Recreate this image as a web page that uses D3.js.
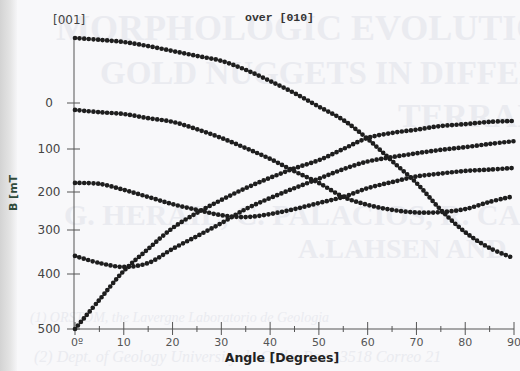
<!DOCTYPE html>
<html lang="en">
<head>
  <meta charset="UTF-8">
  <title>Resonance field vs angle</title>
  <script src="https://d3js.org/d3.v7.min.js"></script>
  <style>
    body { margin: 0; background: #f7f7f9; }
    svg { display: block; }
  </style>
</head>
<body>
  <div id="chart"></div>

  <script>
    // Rotation angle (degrees) and resonance field B [mT] for the five lines
    const angles = [0, 5, 10, 15, 20, 25, 30, 35, 40, 45, 50, 55, 60, 65, 70, 75, 80, 85, 90];
    const lineA = [-145, -141, -136, -127, -116, -105, -94, -74, -49, -22, 8, 37, 78, 128, 179, 247, 305, 341, 364];
    const lineB = [15, 20, 24, 33, 41, 57, 76, 98, 123, 152, 179, 213, 234, 247, 254, 253, 245, 226, 211];
    const lineC = [179, 181, 195, 213, 232, 247, 261, 266, 258, 245, 229, 213, 191, 177, 164, 157, 151, 148, 144];
    const lineD = [359, 375, 384, 375, 343, 314, 282, 245, 216, 191, 169, 147, 129, 119, 110, 102, 96, 89, 83];
    const lineE = [500, 447, 393, 343, 295, 255, 221, 191, 167, 145, 126, 100, 76, 65, 58, 50, 46, 41, 39];
    const allLines = [lineA, lineB, lineC, lineD, lineE];

    const yTicks = [0, 100, 200, 300, 400, 500];
    const xTicks = [0, 10, 20, 30, 40, 50, 60, 70, 80, 90];
    const xMinor = [5, 15, 25, 35, 45, 55, 65, 75, 85];
    const xTickLabels = ["0º", "10", "20", "30", "40", "50", "60", "70", "80", "90"];

    // show-through text from the other side of the scanned page
    const ghostLines = [
      {t: "MORPHOLOGIC EVOLUTION", x: 56, y: 40, s: 36},
      {t: "GOLD NUGGETS IN DIFFERENT", x: 100, y: 84, s: 33},
      {t: "TERRAINS", x: 398, y: 127, s: 34},
      {t: "G. HERAIL, C. PALACIOS, R. CARRASCO", x: 64, y: 225, s: 30},
      {t: "A.LAHSEN AND", x: 298, y: 258, s: 28},
      {t: "(1) ORSTOM, the Lavergne Laboratorio de Geologia", x: 30, y: 322, s: 14},
      {t: "(2) Dept. of Geology University de Chile. Box 13518 Correo 21", x: 34, y: 362, s: 16}
    ];

    const width = 520;
    const height = 371;

    const x = d3.scaleLinear().domain([0, 90]).range([75, 514]);
    // the printed axis is not evenly spaced, so follow its tick marks
    const y = d3.scaleLinear()
        .domain([-145, 0, 100, 200, 300, 400, 500])
        .range([38, 103, 149, 192, 230, 274, 329]);

    const svg = d3.select("#chart").append("svg")
        .attr("width", width)
        .attr("height", height);

    const grad = svg.append("defs").append("linearGradient")
        .attr("id", "edge");
    grad.append("stop").attr("offset", "0%").attr("stop-color", "#d3d3d3");
    grad.append("stop").attr("offset", "60%").attr("stop-color", "#e4e4e4");
    grad.append("stop").attr("offset", "100%").attr("stop-color", "#f5f5f7");

    svg.append("rect")
        .attr("width", width)
        .attr("height", height)
        .attr("fill", "#f8f8fa");
    svg.append("rect")
        .attr("width", 17)
        .attr("height", height)
        .attr("fill", "url(#edge)");

    svg.append("g")
        .attr("fill", "#eaebf0")
        .attr("font-family", "'Liberation Serif', serif")
        .attr("font-weight", "bold")
      .selectAll("text")
      .data(ghostLines)
      .join("text")
        .attr("x", d => d.x)
        .attr("y", d => d.y)
        .attr("font-size", d => d.s)
        .attr("font-style", d => d.s < 20 ? "italic" : null)
        .attr("font-weight", d => d.s < 20 ? "normal" : null)
        .text(d => d.t);

    // axes
    const axis = svg.append("g")
        .attr("stroke", "#555")
        .attr("stroke-width", 1);

    axis.append("line")
        .attr("x1", x(0) - 1).attr("x2", x(0) - 1)
        .attr("y1", y(-145) - 1).attr("y2", y(500));
    axis.append("line")
        .attr("x1", x(0) - 1).attr("x2", x(90))
        .attr("y1", y(500)).attr("y2", y(500));

    axis.selectAll(".ytick")
      .data(yTicks)
      .join("line")
        .attr("x1", 67).attr("x2", 80)
        .attr("y1", d => y(d)).attr("y2", d => y(d));

    axis.selectAll(".xtick")
      .data(xTicks)
      .join("line")
        .attr("x1", d => x(d)).attr("x2", d => x(d))
        .attr("y1", y(500) - 7).attr("y2", y(500) + 6);

    axis.selectAll(".xminor")
      .data(xMinor)
      .join("line")
        .attr("x1", d => x(d)).attr("x2", d => x(d))
        .attr("y1", y(500) - 3).attr("y2", y(500) + 3);

    svg.append("g")
        .attr("font-family", "'DejaVu Sans', sans-serif")
        .attr("font-size", 12)
        .attr("fill", "#444")
        .attr("text-anchor", "middle")
      .selectAll("text")
      .data(yTicks)
      .join("text")
        .attr("x", 49)
        .attr("y", d => y(d))
        .attr("dy", "0.36em")
        .text(d => d);

    svg.append("g")
        .attr("font-family", "'DejaVu Sans', sans-serif")
        .attr("font-size", 11)
        .attr("fill", "#555")
        .attr("text-anchor", "middle")
      .selectAll("text")
      .data(xTicks)
      .join("text")
        .attr("x", (d, i) => x(d) + (i === 0 ? 2 : 0))
        .attr("y", 346)
        .text((d, i) => xTickLabels[i]);

    // titles
    svg.append("text")
        .attr("x", 53).attr("y", 24)
        .attr("font-family", "'DejaVu Sans', sans-serif")
        .attr("font-size", 12)
        .attr("fill", "#444")
        .text("[001]");

    svg.append("text")
        .attr("x", 245).attr("y", 21)
        .attr("font-family", "'Liberation Mono', monospace")
        .attr("font-weight", "bold")
        .attr("font-size", 11.5)
        .attr("fill", "#333")
        .text("over [010]");

    svg.append("text")
        .attr("x", 282).attr("y", 362)
        .attr("text-anchor", "middle")
        .attr("font-family", "'DejaVu Sans', sans-serif")
        .attr("font-weight", "bold")
        .attr("font-size", 12.5)
        .attr("fill", "#222")
        .text("Angle [Degrees]");

    svg.append("text")
        .attr("transform", "translate(17,193) rotate(-90)")
        .attr("text-anchor", "middle")
        .attr("font-family", "'DejaVu Sans', sans-serif")
        .attr("font-weight", "bold")
        .attr("font-size", 11)
        .attr("fill", "#2f4a3a")
        .text("B [mT");

    // the field lines, drawn as chains of dots
    const line = d3.line()
        .x((d, i) => x(angles[i]))
        .y(d => y(d))
        .curve(d3.curveCatmullRom);

    svg.append("g")
        .attr("fill", "none")
        .attr("stroke", "#1e1e1e")
        .attr("stroke-width", 4.7)
        .attr("stroke-linecap", "round")
        .attr("stroke-dasharray", "0 4.6")
      .selectAll("path")
      .data(allLines)
      .join("path")
        .attr("d", line);
  </script>
</body>
</html>
